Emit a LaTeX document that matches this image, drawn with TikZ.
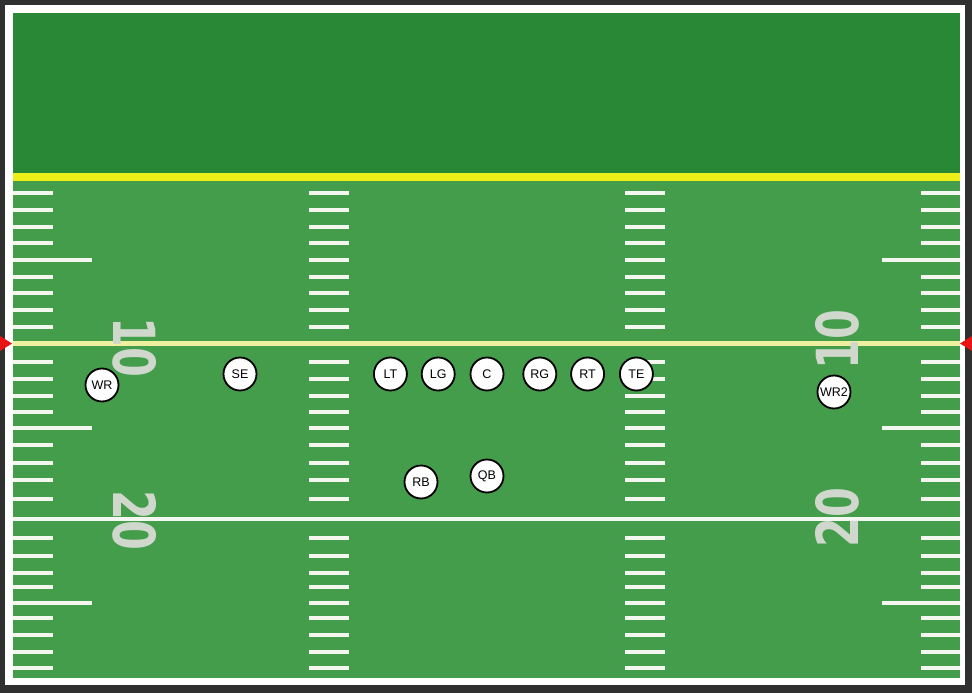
\documentclass[tikz,border=0pt]{standalone}
\usepackage{fontspec}
\setmainfont{Liberation Sans}
\newfontfamily\yardfont{DejaVu Sans}
\usetikzlibrary{positioning}

\definecolor{framegray}{RGB}{48,48,48}
\definecolor{endzone}{RGB}{40,136,54}
\definecolor{turf}{RGB}{68,157,74}
\definecolor{goalyellow}{RGB}{238,238,24}
\definecolor{losyellow}{RGB}{238,240,160}
\definecolor{losred}{RGB}{230,20,20}
\definecolor{numgray}{RGB}{208,216,206}
\definecolor{chalk}{RGB}{244,246,240}

\begin{document}
\begin{tikzpicture}[
    x=1pt, y=-1pt,
    player/.style = {circle, draw=black, fill=white, line width=1.8pt,
                     minimum size=33pt, inner sep=0pt,
                     font=\fontsize{12.5}{12.5}\selectfont},
    yardnum/.style = {inner sep=0pt, text=numgray,
                      font=\yardfont\bfseries\fontsize{58}{58}\selectfont}
]
    \useasboundingbox (0,0) rectangle (972,693);

    % field and end zone
    \fill[framegray] (0,0) rectangle (972,693);
    \fill[white] (5,5) rectangle (965,685);
    \fill[turf] (13,13) rectangle (960,678);
    \fill[endzone] (13,13) rectangle (960,173);
    \fill[goalyellow] (13,173) rectangle (960,181);
    \fill[chalk] (13,517) rectangle (960,521);

    % yard ticks
    \foreach \y in {193,210,227,243,277,293,310,327,
                    362,379,396,412,445,463,480,499,
                    538,556,573,587,618,635,652,668} {
        \fill[chalk] (13,\y-2) rectangle (53,\y+2);
        \fill[chalk] (309,\y-2) rectangle (349,\y+2);
        \fill[chalk] (625,\y-2) rectangle (665,\y+2);
        \fill[chalk] (921,\y-2) rectangle (960,\y+2);
    }
    \foreach \y in {260,428,603} {
        \fill[chalk] (13,\y-2) rectangle (92,\y+2);
        \fill[chalk] (309,\y-2) rectangle (349,\y+2);
        \fill[chalk] (625,\y-2) rectangle (665,\y+2);
        \fill[chalk] (882,\y-2) rectangle (960,\y+2);
    }

    % line of scrimmage
    \fill[losyellow] (13,341) rectangle (960,346);
    \fill[losred] (0,336) -- (12,343.5) -- (0,351) -- cycle;
    \fill[losred] (972,336) -- (960,343.5) -- (972,351) -- cycle;

    % yard numbers
    \node[yardnum, rotate=-90] (L10) at (135,347) {\scalebox{0.74}[1]{10}};
    \node[yardnum, rotate=-90] (L20) at (135,520) {\scalebox{0.74}[1]{20}};
    \node[yardnum, rotate=90] (R10) at (837,340) {\scalebox{0.74}[1]{10}};
    \node[yardnum, rotate=90] (R20) at (837,518) {\scalebox{0.74}[1]{20}};

    % offense
    \node[player] (C) at (487,374) {C};
    \node[player] (LG) [left=14pt of C] {LG};
    \node[player] (LT) [left=13pt of LG] {LT};
    \node[player] (RG) [right=18pt of C] {RG};
    \node[player] (RT) [right=13pt of RG] {RT};
    \node[player] (TE) [right=14pt of RT] {TE};
    \node[player] (QB) at (487,476) {QB};
    \node[player] (RB) at (421,482) {RB};
    \node[player] (SE) at (240,374) {SE};
    \node[player] (WR) at (102,385) {WR};
    \node[player] (WR2) at (834,392) {WR2};

\end{tikzpicture}
\end{document}
